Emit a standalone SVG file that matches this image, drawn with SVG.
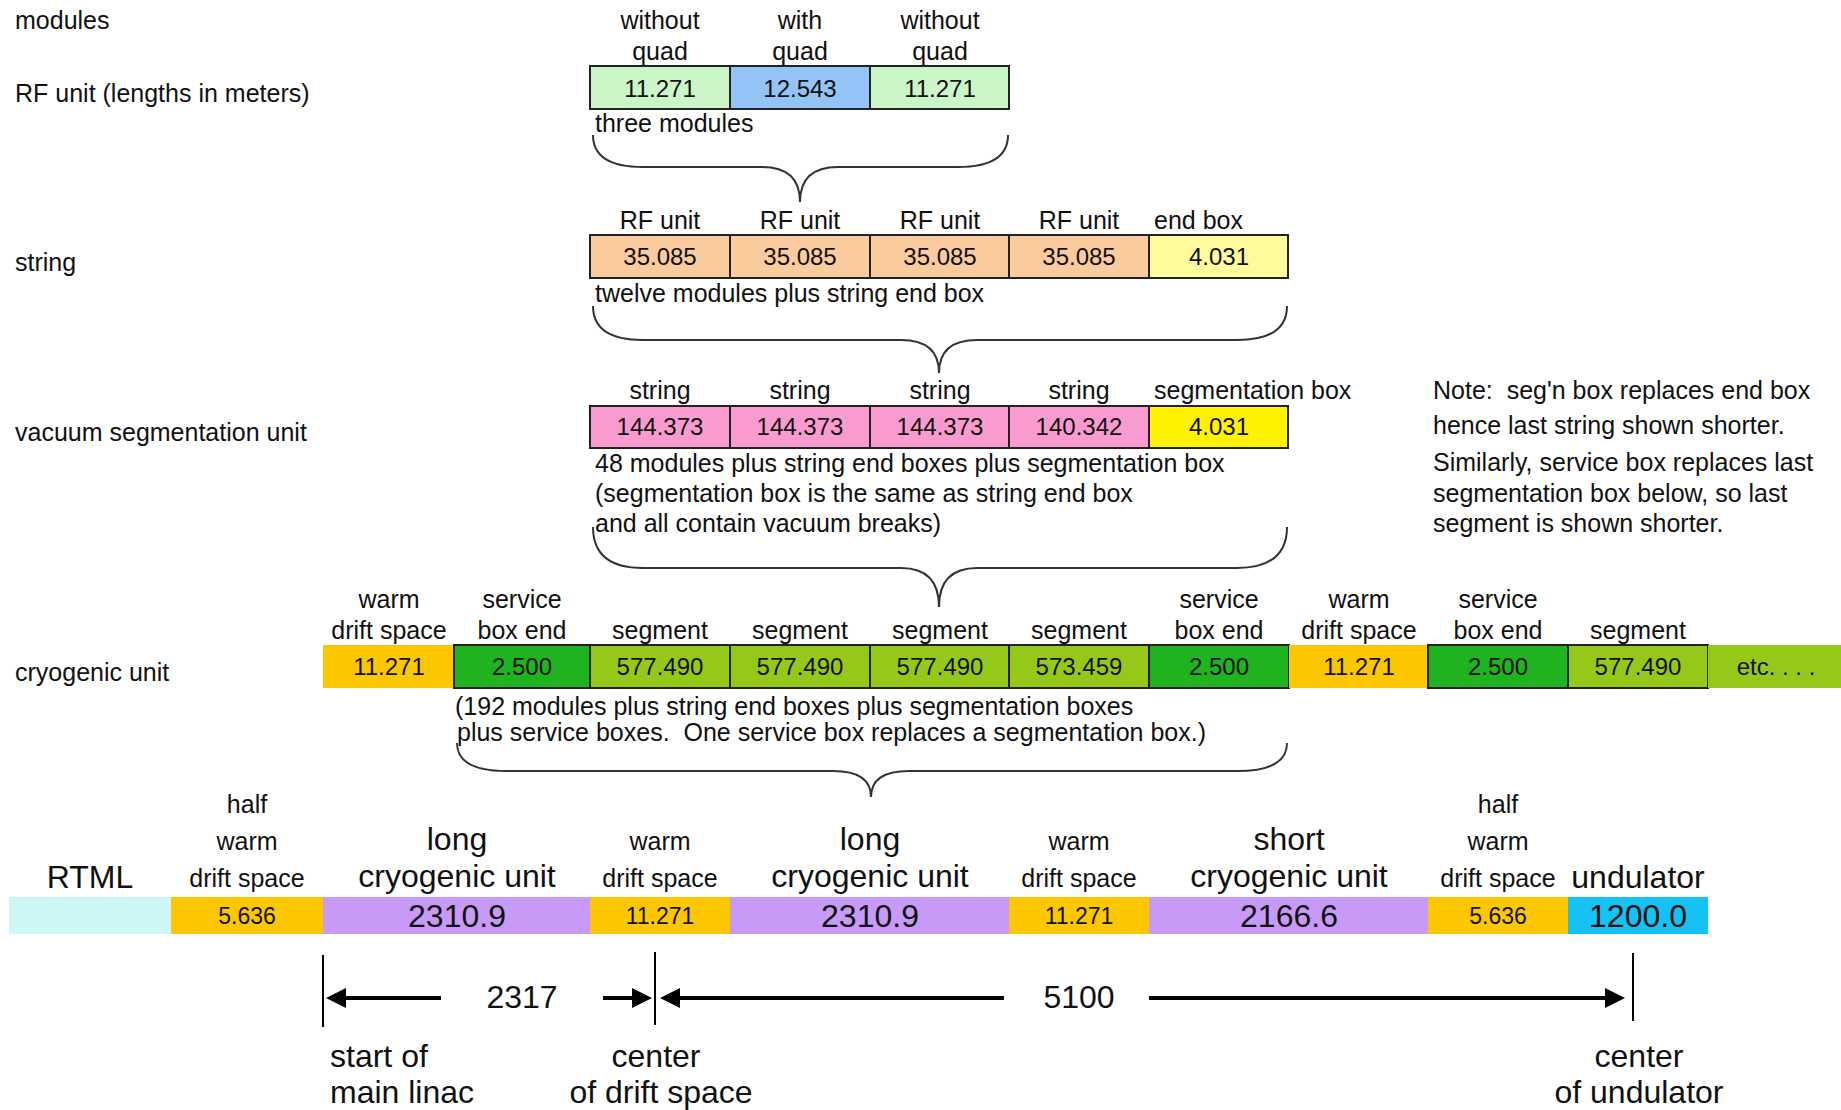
<svg xmlns="http://www.w3.org/2000/svg" width="1841" height="1110" viewBox="0 0 1841 1110">
<defs>
<style>
text{font-family:"Liberation Sans",Arial,sans-serif;fill:#111;white-space:pre;}
.lab{font-size:25px;}
.num{font-size:24px;text-anchor:middle;}
.c{text-anchor:middle;}
.big{font-size:32px;}
.bnum{font-size:32px;text-anchor:middle;}
.snum{font-size:23px;text-anchor:middle;}
.cell{stroke:#222;stroke-width:2;}
.nb{stroke:none;}
.brace{fill:none;stroke:#333;stroke-width:2;}
.dim{stroke:#000;stroke-width:2;}
.arr{stroke:#000;stroke-width:4;}
.lg{fill:#ccf5c8;}.bl{fill:#94c3f5;}.pe{fill:#facb9c;}.py{fill:#fdfb9c;}
.pk{fill:#f99bcf;}.ye{fill:#fff200;}.wa{fill:#fdc700;}.sv{fill:#1fb31f;}
.sg{fill:#96c81a;}.rt{fill:#cdf7f7;}.pu{fill:#c89af7;}.un{fill:#16c1f3;}
</style>
<marker id="ah" markerUnits="userSpaceOnUse" markerWidth="20" markerHeight="22" refX="10" refY="11" orient="auto">
<path d="M0,1 L20,11 L0,21 z" fill="#000"/>
</marker>
</defs>
<rect width="1841" height="1110" fill="#fff"/>

<g id="left-labels">
<text class="lab" x="15" y="29">modules</text>
<text class="lab" x="15" y="102">RF unit (lengths in meters)</text>
<text class="lab" x="15" y="271">string</text>
<text class="lab" x="15" y="441">vacuum segmentation unit</text>
<text class="lab" x="15" y="681">cryogenic unit</text>
</g>

<!-- RF unit row -->
<g id="rf-module-1"><rect class="cell lg" x="590" y="66" width="140" height="43"/>
<text class="lab c" x="660" y="29">without</text><text class="lab c" x="660" y="60">quad</text>
<text class="num" x="660" y="97">11.271</text></g>
<g id="rf-module-2"><rect class="cell bl" x="730" y="66" width="140" height="43"/>
<text class="lab c" x="800" y="29">with</text><text class="lab c" x="800" y="60">quad</text>
<text class="num" x="800" y="97">12.543</text></g>
<g id="rf-module-3"><rect class="cell lg" x="870" y="66" width="139" height="43"/>
<text class="lab c" x="940" y="29">without</text><text class="lab c" x="940" y="60">quad</text>
<text class="num" x="940" y="97">11.271</text></g>
<g id="rf-note"><text class="lab" x="595" y="132">three modules</text></g>

<!-- string row -->
<g id="str-rf-1"><rect class="cell pe" x="590" y="235" width="140" height="43"/>
<text class="lab c" x="660" y="229">RF unit</text><text class="num" x="660" y="265">35.085</text></g>
<g id="str-rf-2"><rect class="cell pe" x="730" y="235" width="140" height="43"/>
<text class="lab c" x="800" y="229">RF unit</text><text class="num" x="800" y="265">35.085</text></g>
<g id="str-rf-3"><rect class="cell pe" x="870" y="235" width="139" height="43"/>
<text class="lab c" x="940" y="229">RF unit</text><text class="num" x="940" y="265">35.085</text></g>
<g id="str-rf-4"><rect class="cell pe" x="1009" y="235" width="140" height="43"/>
<text class="lab c" x="1079" y="229">RF unit</text><text class="num" x="1079" y="265">35.085</text></g>
<g id="str-endbox"><rect class="cell py" x="1149" y="235" width="139" height="43"/>
<text class="lab" x="1154" y="229">end box</text><text class="num" x="1219" y="265">4.031</text></g>
<g id="str-note"><text class="lab" x="595" y="302">twelve modules plus string end box</text></g>

<!-- vacuum segmentation row -->
<g id="vac-str-1"><rect class="cell pk" x="590" y="406" width="140" height="42"/>
<text class="lab c" x="660" y="399">string</text><text class="num" x="660" y="435">144.373</text></g>
<g id="vac-str-2"><rect class="cell pk" x="730" y="406" width="140" height="42"/>
<text class="lab c" x="800" y="399">string</text><text class="num" x="800" y="435">144.373</text></g>
<g id="vac-str-3"><rect class="cell pk" x="870" y="406" width="139" height="42"/>
<text class="lab c" x="940" y="399">string</text><text class="num" x="940" y="435">144.373</text></g>
<g id="vac-str-4"><rect class="cell pk" x="1009" y="406" width="140" height="42"/>
<text class="lab c" x="1079" y="399">string</text><text class="num" x="1079" y="435">140.342</text></g>
<g id="vac-segbox"><rect class="cell ye" x="1149" y="406" width="139" height="42"/>
<text class="lab" x="1154" y="399">segmentation box</text><text class="num" x="1219" y="435">4.031</text></g>
<g id="vac-note">
<text class="lab" x="595" y="472">48 modules plus string end boxes plus segmentation box</text>
<text class="lab" x="595" y="502">(segmentation box is the same as string end box</text>
<text class="lab" x="595" y="532">and all contain vacuum breaks)</text>
</g>
<g id="side-note">
<text class="lab" x="1433" y="399">Note:  seg'n box replaces end box</text>
<text class="lab" x="1433" y="434">hence last string shown shorter.</text>
<text class="lab" x="1433" y="471">Similarly, service box replaces last</text>
<text class="lab" x="1433" y="502">segmentation box below, so last</text>
<text class="lab" x="1433" y="532">segment is shown shorter.</text>
</g>

<!-- cryogenic unit row -->
<g id="cryo-warm-1"><rect class="nb wa" x="323" y="645" width="131" height="43"/>
<text class="lab c" x="389" y="608">warm</text><text class="lab c" x="389" y="639">drift space</text>
<text class="num" x="389" y="675">11.271</text></g>
<g id="cryo-service-1"><rect class="cell sv" x="454" y="645" width="136" height="43"/>
<text class="lab c" x="522" y="608">service</text><text class="lab c" x="522" y="639">box end</text>
<text class="num" x="522" y="675">2.500</text></g>
<g id="cryo-seg-1"><rect class="cell sg" x="590" y="645" width="140" height="43"/>
<text class="lab c" x="660" y="639">segment</text><text class="num" x="660" y="675">577.490</text></g>
<g id="cryo-seg-2"><rect class="cell sg" x="730" y="645" width="140" height="43"/>
<text class="lab c" x="800" y="639">segment</text><text class="num" x="800" y="675">577.490</text></g>
<g id="cryo-seg-3"><rect class="cell sg" x="870" y="645" width="139" height="43"/>
<text class="lab c" x="940" y="639">segment</text><text class="num" x="940" y="675">577.490</text></g>
<g id="cryo-seg-4"><rect class="cell sg" x="1009" y="645" width="140" height="43"/>
<text class="lab c" x="1079" y="639">segment</text><text class="num" x="1079" y="675">573.459</text></g>
<g id="cryo-service-2"><rect class="cell sv" x="1149" y="645" width="140" height="43"/>
<text class="lab c" x="1219" y="608">service</text><text class="lab c" x="1219" y="639">box end</text>
<text class="num" x="1219" y="675">2.500</text></g>
<g id="cryo-warm-2"><rect class="nb wa" x="1289" y="645" width="139" height="43"/>
<text class="lab c" x="1359" y="608">warm</text><text class="lab c" x="1359" y="639">drift space</text>
<text class="num" x="1359" y="675">11.271</text></g>
<g id="cryo-service-3"><rect class="cell sv" x="1428" y="645" width="140" height="43"/>
<text class="lab c" x="1498" y="608">service</text><text class="lab c" x="1498" y="639">box end</text>
<text class="num" x="1498" y="675">2.500</text></g>
<g id="cryo-seg-5"><rect class="cell sg" x="1568" y="645" width="140" height="43"/>
<text class="lab c" x="1638" y="639">segment</text><text class="num" x="1638" y="675">577.490</text></g>
<g id="cryo-etc"><rect class="nb sg" x="1708" y="645" width="133" height="43"/>
<text class="num" x="1776" y="675">etc. . . .</text></g>
<g id="cryo-note">
<text class="lab" x="455" y="715">(192 modules plus string end boxes plus segmentation boxes</text>
<text class="lab" x="457" y="741">plus service boxes.  One service box replaces a segmentation box.)</text>
</g>

<!-- main linac row -->
<g id="ml-rtml"><rect class="nb rt" x="9" y="897" width="162" height="37"/>
<text class="big c" x="90" y="888">RTML</text></g>
<g id="ml-halfwarm-1"><rect class="nb wa" x="171" y="897" width="152" height="37"/>
<text class="lab c" x="247" y="813">half</text><text class="lab c" x="247" y="850">warm</text><text class="lab c" x="247" y="887">drift space</text>
<text class="snum" x="247" y="924">5.636</text></g>
<g id="ml-long-1"><rect class="nb pu" x="323" y="897" width="267" height="37"/>
<text class="big c" x="457" y="850">long</text><text class="big c" x="457" y="887">cryogenic unit</text>
<text class="bnum" x="457" y="927">2310.9</text></g>
<g id="ml-warm-1"><rect class="nb wa" x="590" y="897" width="140" height="37"/>
<text class="lab c" x="660" y="850">warm</text><text class="lab c" x="660" y="887">drift space</text>
<text class="snum" x="660" y="924">11.271</text></g>
<g id="ml-long-2"><rect class="nb pu" x="730" y="897" width="279" height="37"/>
<text class="big c" x="870" y="850">long</text><text class="big c" x="870" y="887">cryogenic unit</text>
<text class="bnum" x="870" y="927">2310.9</text></g>
<g id="ml-warm-2"><rect class="nb wa" x="1009" y="897" width="140" height="37"/>
<text class="lab c" x="1079" y="850">warm</text><text class="lab c" x="1079" y="887">drift space</text>
<text class="snum" x="1079" y="924">11.271</text></g>
<g id="ml-short"><rect class="nb pu" x="1149" y="897" width="279" height="37"/>
<text class="big c" x="1289" y="850">short</text><text class="big c" x="1289" y="887">cryogenic unit</text>
<text class="bnum" x="1289" y="927">2166.6</text></g>
<g id="ml-halfwarm-2"><rect class="nb wa" x="1428" y="897" width="140" height="37"/>
<text class="lab c" x="1498" y="813">half</text><text class="lab c" x="1498" y="850">warm</text><text class="lab c" x="1498" y="887">drift space</text>
<text class="snum" x="1498" y="924">5.636</text></g>
<g id="ml-undulator"><rect class="nb un" x="1568" y="897" width="140" height="37"/>
<text class="big c" x="1638" y="888">undulator</text>
<text class="bnum" x="1638" y="927">1200.0</text></g>

<g id="dimension-labels">
<text class="big c" x="522" y="1008">2317</text>
<text class="big c" x="1079" y="1008">5100</text>
<text class="big" x="330" y="1067">start of</text>
<text class="big" x="330" y="1103">main linac</text>
<text class="big c" x="656" y="1067">center</text>
<text class="big c" x="661" y="1103">of drift space</text>
<text class="big c" x="1639" y="1067">center</text>
<text class="big c" x="1639" y="1103">of undulator</text>
</g>

<g id="connectors">
<path class="brace" d="M593,135 Q593,167 643,167 L762,167 Q800,167 800,202 Q800,167 838,167 L958,167 Q1008,167 1008,135"/>
<path class="brace" d="M593,306 Q593,340 643,340 L901,340 Q939,340 939,373 Q939,340 977,340 L1237,340 Q1287,340 1287,306"/>
<path class="brace" d="M593,527 Q593,568 643,568 L901,568 Q939,568 939,607 Q939,568 977,568 L1237,568 Q1287,568 1287,527"/>
<path class="brace" d="M457,743 Q457,771 507,771 L833,771 Q871,771 871,797 Q871,771 909,771 L1237,771 Q1287,771 1287,743"/>
<line class="dim" x1="323" y1="955" x2="323" y2="1027"/>
<line class="dim" x1="655" y1="952" x2="655" y2="1025"/>
<line class="dim" x1="1633" y1="953" x2="1633" y2="1021"/>
<line class="arr" x1="441" y1="998" x2="336" y2="998" marker-end="url(#ah)"/>
<line class="arr" x1="603" y1="998" x2="642" y2="998" marker-end="url(#ah)"/>
<line class="arr" x1="1004" y1="998" x2="670" y2="998" marker-end="url(#ah)"/>
<line class="arr" x1="1149" y1="998" x2="1615" y2="998" marker-end="url(#ah)"/>
</g>
</svg>
